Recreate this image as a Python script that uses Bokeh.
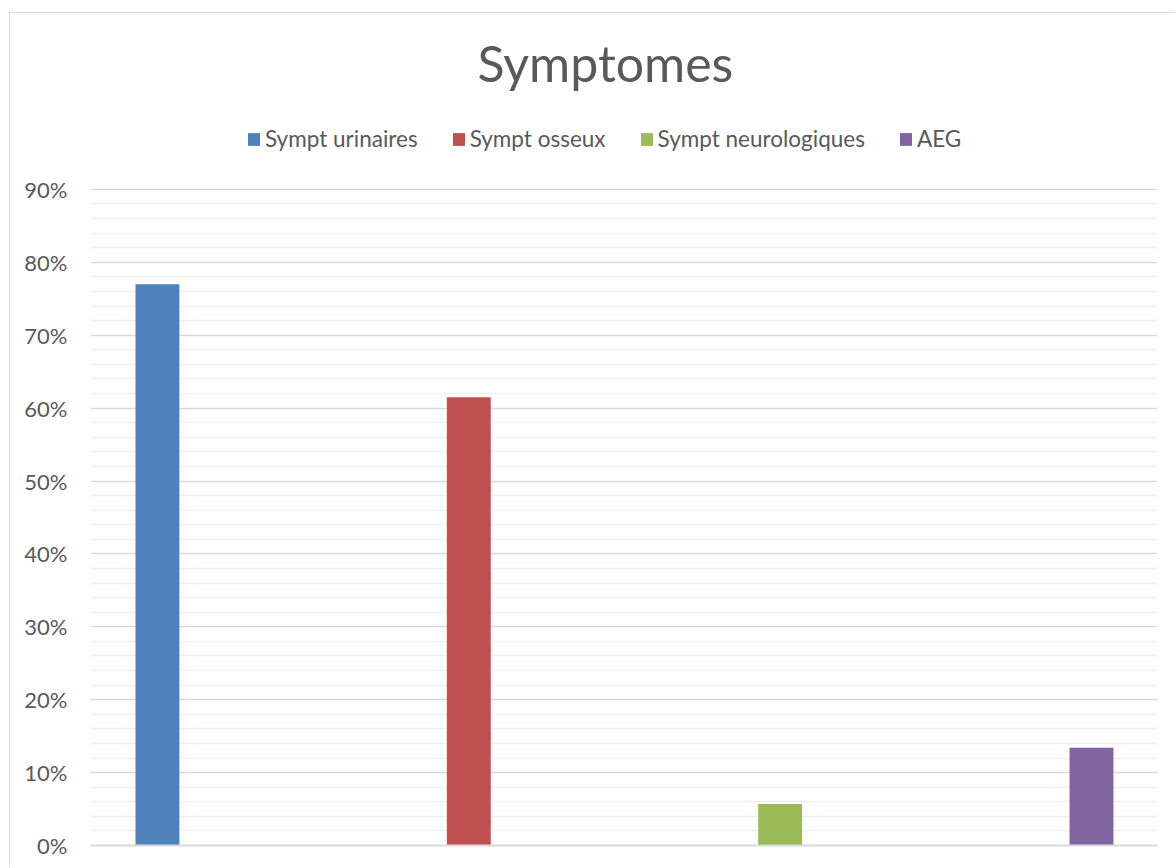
from bokeh.plotting import figure
from bokeh.models import (ColumnDataSource, Legend, LegendItem, NumeralTickFormatter,
                          FixedTicker, Range1d)
from bokeh.embed import file_html
from bokeh.resources import INLINE

# Share of patients presenting each symptom group
categories = ["Sympt urinaires", "Sympt osseux", "Sympt neurologiques", "AEG"]
shares = [0.77, 0.615, 0.057, 0.134]
colors = ["#4F81BD", "#C0504D", "#9BBB59", "#8064A2"]
positions = [0, 1, 2, 3]

# value axis: labelled every 10 %, light lines every 2 %, up to 90 %
major_ticks = [i / 10 for i in range(10)]
minor_ticks = [i / 50 for i in range(46) if i % 5]

FONT = "Lato"
TEXT = "#595959"

# the plotting area reaches above 90 % so the legend row can sit inside it
p = figure(
    width=1166, height=855,
    output_backend="svg", toolbar_location=None,
    x_range=Range1d(-0.215, 3.212), y_range=Range1d(0, 1.011),
    min_border_left=80, min_border_right=19, min_border_bottom=23, min_border_top=95,
    outline_line_color=None,
    styles={"margin-left": "9px", "margin-top": "12px",
            "border-left": "1px solid #d9d9d9", "border-top": "1px solid #d9d9d9"},
)

p.title.text = "Symptomes"
p.title.align = "left"
p.title.offset = 387
p.title.text_font = FONT
p.title.text_font_style = "normal"
p.title.text_font_size = "50px"
p.title.text_color = TEXT
p.title.standoff = 31

src = ColumnDataSource(dict(x=positions, top=shares, color=colors, name=categories))
bars = p.vbar(x="x", top="top", width=0.141, color="color", line_color=None, source=src)

# legend row, positioned in screen units from the frame's bottom-left corner
items = [LegendItem(label=c, renderers=[bars], index=i) for i, c in enumerate(categories)]
legend = Legend(items=items, orientation="horizontal", location=(156, 693),
                glyph_width=15, glyph_height=16, label_standoff=4, spacing=33,
                label_text_font=FONT, label_text_font_size="22.5px", label_text_color=TEXT,
                border_line_color=None, background_fill_alpha=0, padding=0, margin=0)
p.add_layout(legend, "center")

yt = FixedTicker(ticks=major_ticks, minor_ticks=minor_ticks)
p.yaxis.ticker = yt
p.yaxis.formatter = NumeralTickFormatter(format="0%")
p.yaxis.axis_line_color = None
p.yaxis.major_tick_line_color = None
p.yaxis.minor_tick_line_color = None
p.yaxis.major_label_standoff = 17
p.yaxis.major_label_text_font = FONT
p.yaxis.major_label_text_font_size = "22px"
p.yaxis.major_label_text_color = TEXT

p.ygrid.ticker = yt
p.ygrid.grid_line_color = "#d9d9d9"
p.ygrid.grid_line_width = 1.5
p.ygrid.minor_grid_line_color = "#f0f0f0"
p.ygrid.minor_grid_line_width = 1.5
p.xgrid.grid_line_color = None

# category axis carries only the baseline
p.xaxis.ticker = FixedTicker(ticks=[])
p.xaxis.axis_line_color = "#d9d9d9"
p.xaxis.axis_line_width = 2
p.xaxis.major_tick_line_color = None
p.xaxis.minor_tick_line_color = None

open("out.html", "w").write(file_html(p, INLINE))
